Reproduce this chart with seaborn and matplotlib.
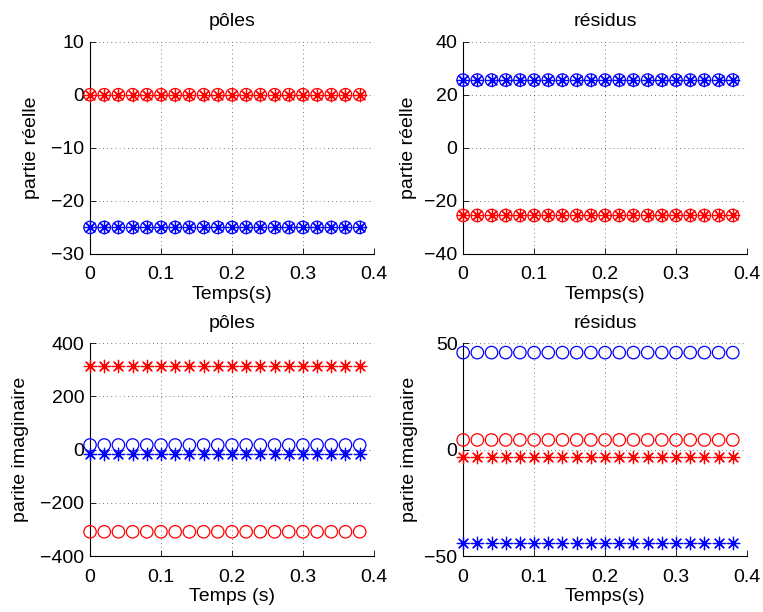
import numpy as np
import pandas as pd
import seaborn as sns
import matplotlib.pyplot as plt
from matplotlib.ticker import FixedLocator

sns.set_style("white")
plt.rcParams['font.family'] = ['Liberation Sans', 'DejaVu Sans']
plt.rcParams['text.color'] = 'black'
plt.rcParams['axes.labelcolor'] = 'black'

# time axis (s)
temps = [0.00, 0.02, 0.04, 0.06, 0.08, 0.10, 0.12, 0.14, 0.16, 0.18,
         0.20, 0.22, 0.24, 0.26, 0.28, 0.30, 0.32, 0.34, 0.36, 0.38]
n = len(temps)

# (constant over time)
poles_reel_bleu = -25.0
poles_reel_rouge = 0.0
residus_reel_bleu = 25.5
residus_reel_rouge = -25.5
poles_imag_rouge_etoile = 314.0
poles_imag_rouge_cercle = -309.0
poles_imag_bleu_cercle = 17.0
poles_imag_bleu_etoile = -15.0
residus_imag_bleu_cercle = 45.5
residus_imag_rouge_cercle = 4.5
residus_imag_rouge_etoile = -3.5
residus_imag_bleu_etoile = -44.0

x_ticks = [0, 0.1, 0.2, 0.3, 0.4]
x_labels = ["0", "0.1", "0.2", "0.3", "0.4"]

ASTER = (8, 2, 0)
FS = 14


def pts(ax, val, color, marker):
    df = pd.DataFrame({"t": temps, "v": [val] * n})
    if marker == "o":
        sns.scatterplot(data=df, x="t", y="v", ax=ax, marker="o", s=80,
                        facecolors="none", edgecolor=color, linewidth=0.9,
                        clip_on=False, zorder=3)
    else:
        sns.scatterplot(data=df, x="t", y="v", ax=ax, marker=ASTER, s=80,
                        color=color, edgecolor=color, linewidth=0.9,
                        clip_on=False, zorder=3)


def style(ax, title, xlabel, ylabel, ylim, yticks, ylpad):
    ax.set_xlim(0, 0.4)
    ax.set_ylim(*ylim)
    ax.xaxis.set_major_locator(FixedLocator(x_ticks))
    ax.set_xticklabels(x_labels)
    ax.yaxis.set_major_locator(FixedLocator(yticks))
    ax.set_yticklabels([f"{v:g}".replace("-", "\u2212") for v in yticks])
    ax.grid(True, color="black", linestyle=(0, (1, 4)), linewidth=0.6, alpha=0.7)
    for s in ["top", "right"]:
        ax.spines[s].set_visible(False)
    for s in ["left", "bottom"]:
        ax.spines[s].set_color("black")
        ax.spines[s].set_linewidth(0.8)
    ax.tick_params(direction="in", length=4, width=0.6, labelsize=FS,
                   colors="black", left=True, bottom=True)
    ax.tick_params(axis="x", pad=9)
    ax.tick_params(axis="y", pad=4)
    ax.set_title(title, fontsize=FS, pad=11, color="black")
    ax.set_xlabel(xlabel, fontsize=FS, labelpad=2, color="black")
    ax.set_ylabel(ylabel, fontsize=FS, labelpad=ylpad, color="black")


fig = plt.figure(figsize=(7.63, 6.12), dpi=100)
ax1 = fig.add_axes([0.118, 0.585, 0.372, 0.347])
ax2 = fig.add_axes([0.607, 0.585, 0.372, 0.347])
ax3 = fig.add_axes([0.118, 0.0915, 0.372, 0.348])
ax4 = fig.add_axes([0.607, 0.0915, 0.372, 0.348])

# top left: poles, real part
for c, v in [("blue", poles_reel_bleu), ("red", poles_reel_rouge)]:
    pts(ax1, v, c, "o")
    pts(ax1, v, c, "*")
style(ax1, "pôles", "Temps(s)", "partie réelle", (-30, 10), [-30, -20, -10, 0, 10], 8)

# top right: residues, real part
for c, v in [("blue", residus_reel_bleu), ("red", residus_reel_rouge)]:
    pts(ax2, v, c, "o")
    pts(ax2, v, c, "*")
style(ax2, "résidus", "Temps(s)", "partie réelle", (-40, 40), [-40, -20, 0, 20, 40], 5)

# bottom left: poles, imaginary part
pts(ax3, poles_imag_bleu_cercle, "blue", "o")
pts(ax3, poles_imag_rouge_cercle, "red", "o")
pts(ax3, poles_imag_bleu_etoile, "blue", "*")
pts(ax3, poles_imag_rouge_etoile, "red", "*")
style(ax3, "pôles", "Temps (s)", "parite imaginaire", (-400, 400), [-400, -200, 0, 200, 400], 8)

# bottom right: residues, imaginary part
pts(ax4, residus_imag_bleu_cercle, "blue", "o")
pts(ax4, residus_imag_rouge_cercle, "red", "o")
pts(ax4, residus_imag_bleu_etoile, "blue", "*")
pts(ax4, residus_imag_rouge_etoile, "red", "*")
style(ax4, "résidus", "Temps(s)", "parite imaginaire", (-50, 50), [-50, 0, 50], 5)

fig.savefig("out.png", dpi=100)
